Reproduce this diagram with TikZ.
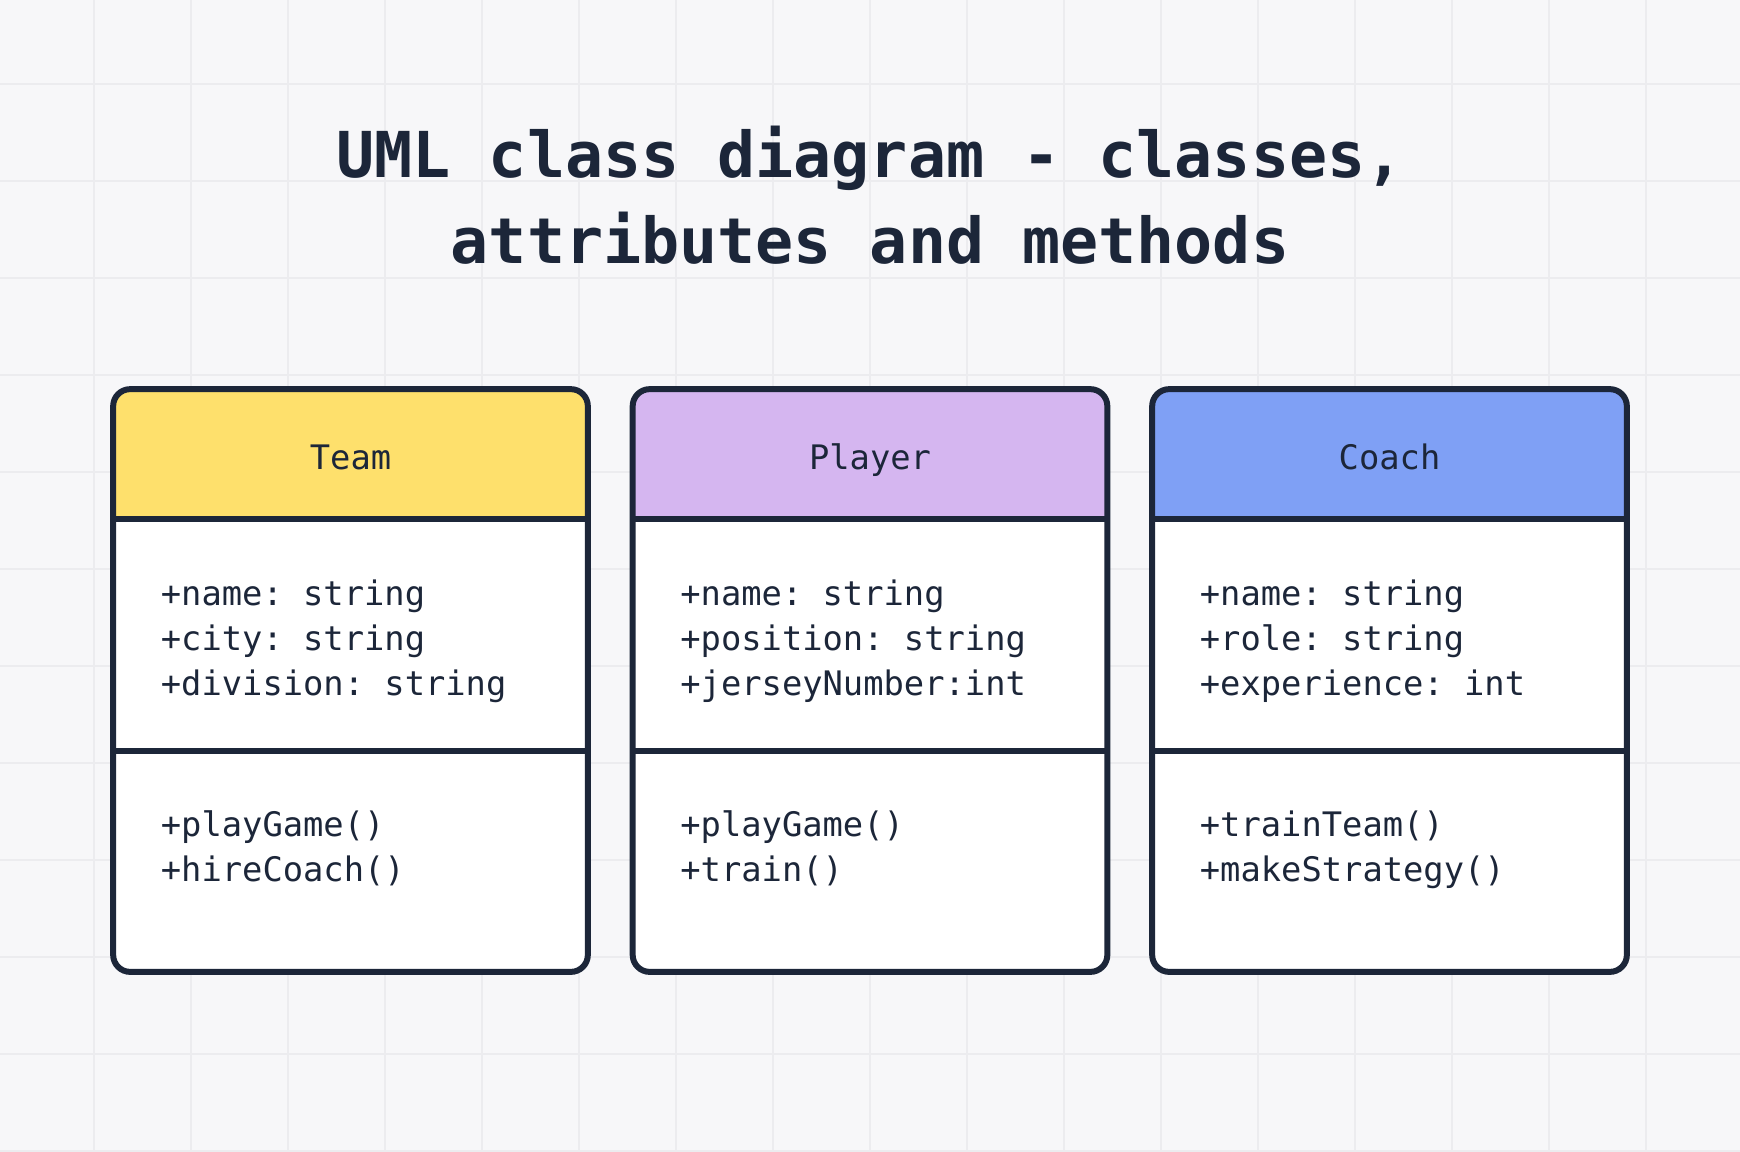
\documentclass[tikz,border=0pt]{standalone}
\usepackage{fontspec}
\setmonofont{DejaVu Sans Mono}
\usepackage{xcolor}
\usepackage{tikz}
\usetikzlibrary{positioning}

\definecolor{ink}{HTML}{1C2639}
\definecolor{paper}{HTML}{F7F7F9}
\definecolor{gridline}{HTML}{ECECEF}
\definecolor{teamyellow}{HTML}{FEE06C}
\definecolor{playerpurple}{HTML}{D5B6F0}
\definecolor{coachblue}{HTML}{7FA0F5}

\begin{document}
\begin{tikzpicture}[x=0.01cm,y=-0.01cm,
	boxline/.style={draw=ink,line width=1.7pt},
	classbox/.style={rectangle,fill=white,minimum width=4.73cm,minimum height=5.81cm,rounded corners=0.17cm,inner sep=0pt},
	classname/.style={text=ink,font={\ttfamily\fontsize{9.6}{12}\selectfont},anchor=base},
	member/.style={text=ink,font={\ttfamily\fontsize{9.6}{12}\selectfont},anchor=base west,inner sep=0pt}]
	
	\useasboundingbox (0,0) rectangle (1740,1151);
	\fill[paper] (0,0) rectangle (1740,1151);
	
	% grid
	\begin{scope}
		\clip (0,0) rectangle (1740,1151);
		\foreach \k in {0,...,17}{
			\draw[gridline,line width=0.7pt] (94+97*\k,0) -- (94+97*\k,1151);}
		\foreach \k in {0,...,11}{
			\draw[gridline,line width=0.7pt] (0,84+97*\k) -- (1740,84+97*\k);}
	\end{scope}
	
	\node[text=ink,align=center,font={\ttfamily\bfseries\fontsize{18}{24.6}\selectfont}] 
	(title) at (870,195) {UML class diagram - classes,\\attributes and methods};
	
	\foreach \i/\x/\name/\col in {1/350.5/Team/teamyellow,2/870/Player/playerpurple,3/1389.5/Coach/coachblue}{
		\node[classbox] (c\i) at (\x,680.5){};
		\begin{scope}
			\clip (c\i.north west) rectangle (c\i.east |- 0,519);
			\fill[\col,rounded corners=0.17cm] (c\i.north west) rectangle (c\i.south east);
		\end{scope}
		\draw[boxline] (c\i.west |- 0,519) -- (c\i.east |- 0,519);
		\draw[boxline] (c\i.west |- 0,751) -- (c\i.east |- 0,751);
		\draw[boxline,rounded corners=0.17cm] (c\i.north west) rectangle (c\i.south east);
		\node[classname] (n\i) at (\x,469) {\name};
	}
	
	% attributes
	\foreach \i/\j/\y/\txt in {1/1/605/+name: string,1/2/650/+city: string,1/3/695/+division: string,
		2/1/605/+name: string,2/2/650/+position: string,2/3/695/+jerseyNumber:int,
		3/1/605/+name: string,3/2/650/+role: string,3/3/695/+experience: int}{
		\node[member] (a\i\j) at ([xshift=0.47cm] c\i.west |- 0,\y) {\txt};
	}
	
	% methods
	\foreach \i/\j/\y/\txt in {1/1/836/+playGame(),1/2/881/+hireCoach(),
		2/1/836/+playGame(),2/2/881/+train(),
		3/1/836/+trainTeam(),3/2/881/+makeStrategy()}{
		\node[member] (m\i\j) at ([xshift=0.47cm] c\i.west |- 0,\y) {\txt};
	}
\end{tikzpicture}
\end{document}
